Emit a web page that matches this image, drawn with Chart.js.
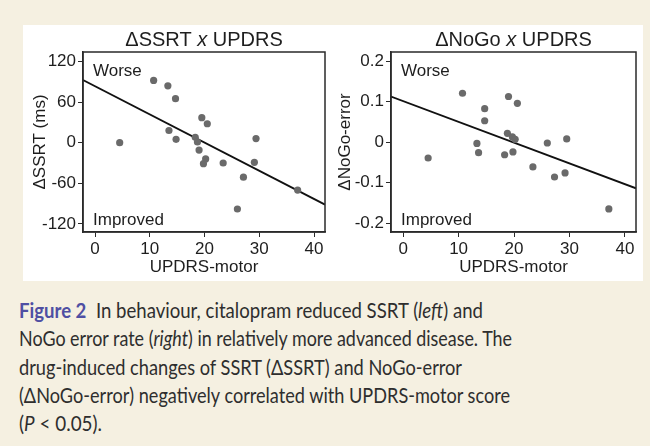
<!DOCTYPE html>
<html>
<head>
<meta charset="utf-8">
<script src="https://cdn.jsdelivr.net/npm/chart.js@4.4.0/dist/chart.umd.min.js"></script>
<style>
  body { margin: 0; background: #f5f0e1; width: 650px; height: 446px; overflow: hidden; position: relative; }
  #panel { position: absolute; left: 23px; top: 25px; width: 620px; height: 256px; background: #ffffff; }
  .wrap { position: absolute; top: 0; width: 310px; height: 256px; }
  #caption { position: absolute; left: 19px; top: 296px; font-family: Lato, "Open Sans", sans-serif; font-size: 20.5px; color: #2e2e2e; }
  #caption .line { white-space: nowrap; height: 28.3px; line-height: 28.3px; transform-origin: left center; display: block; width: max-content; }
  #caption b { color: #4f4fa3; font-weight: 700; }
</style>
</head>
<body>
<div id="panel">
  <div class="wrap" style="left:0"><canvas id="ssrtChart"></canvas></div>
  <div class="wrap" style="left:310px"><canvas id="nogoChart"></canvas></div>
</div>
<div id="caption">
  <span class="line" data-w="464"><b>Figure 2</b>&nbsp; In behaviour, citalopram reduced SSRT (<i>left</i>) and</span>
  <span class="line" data-w="493">NoGo error rate (<i>right</i>) in relatively more advanced disease. The</span>
  <span class="line" data-w="443">drug-induced changes of SSRT (&Delta;SSRT) and NoGo-error</span>
  <span class="line" data-w="491">(&Delta;NoGo-error) negatively correlated with UPDRS-motor score</span>
  <span class="line" data-w="83">(<i>P</i> &lt; 0.05).</span>
</div>
<script>
// UPDRS-motor scores (x) and drug-induced changes (y)
const updrsLeft = [4.5, 10.7, 13.3, 14.7, 13.5, 14.8, 19.5, 20.5, 18.3, 18.7, 19.0, 20.2, 19.8, 23.4, 29.1, 29.4, 27.1, 26.0, 37.0];
const deltaSSRT = [0, 92, 84, 65, 18, 5, 37, 28, 8, 1, -11, -24, -31, -30, -29, 6, -51, -98, -70];

const updrsRight = [4.5, 10.7, 14.7, 14.7, 13.3, 13.6, 19.0, 20.6, 18.8, 19.7, 20.2, 18.3, 19.8, 23.4, 26.0, 29.5, 27.3, 29.2, 37.1];
const deltaNoGo = [-0.039, 0.121, 0.083, 0.053, -0.003, -0.026, 0.113, 0.096, 0.022, 0.013, 0.007, -0.031, -0.024, -0.061, -0.002, 0.008, -0.086, -0.076, -0.165];

// regression lines, endpoints at the plot edges
const fitLeftX = [-2.2, 42];
const fitLeftY = [92.5, -91.5];
const fitRightX = [-2.2, 42];
const fitRightY = [0.113, -0.114];

const xTicks = [0, 10, 20, 30, 40];
const ssrtTicks = [-120, -60, 0, 60, 120];
const nogoTicks = [-0.2, -0.1, 0, 0.1, 0.2];
const nogoTickLabels = ['-0.2', '-0.1', '0', '0.1', '0.2'];

const FONT = "'Liberation Sans', Arial, sans-serif";
const INK = '#1e1e1e';

function toPoints(xs, ys) {
    return xs.map((x, i) => ({ x: x, y: ys[i] }));
}

// frame, panel title and the Worse / Improved notes
const decorPlugin = {
    id: 'decor',
    afterDraw(chart, args, opts) {
        const { ctx, chartArea: a } = chart;
        ctx.save();
        ctx.strokeStyle = '#2a2a2a';
        ctx.lineWidth = 1.5;
        ctx.strokeRect(a.left, a.top, a.right - a.left, a.bottom - a.top);

        ctx.fillStyle = INK;
        ctx.textBaseline = 'alphabetic';
        const parts = opts.title;
        let total = 0;
        parts.forEach(p => {
            ctx.font = (p.italic ? 'italic ' : '') + '20px ' + FONT;
            p.w = ctx.measureText(p.text).width;
            total += p.w;
        });
        let tx = (a.left + a.right) / 2 - total / 2;
        parts.forEach(p => {
            ctx.font = (p.italic ? 'italic ' : '') + '20px ' + FONT;
            ctx.fillText(p.text, tx, 21);
            tx += p.w;
        });

        ctx.font = '17px ' + FONT;
        ctx.fillText('Worse', a.left + 10, a.top + 24);
        ctx.fillText('Improved', a.left + 10, a.bottom - 7);
        ctx.restore();
    }
};

function makeChart(id, xs, ys, fx, fy, yMin, yMax, yTicks, yLabels, yTitle, yWidth, padRight, yTitlePad, title) {
    const ctx = document.getElementById(id).getContext('2d');
    return new Chart(ctx, {
        type: 'scatter',
        data: {
            datasets: [
                {
                    data: toPoints(xs, ys),
                    backgroundColor: '#6a6a6a',
                    borderWidth: 0,
                    pointRadius: 3.6
                },
                {
                    data: toPoints(fx, fy),
                    showLine: true,
                    borderColor: '#111111',
                    borderWidth: 1.8,
                    pointRadius: 0
                }
            ]
        },
        options: {
            responsive: true,
            maintainAspectRatio: false,
            animation: false,
            layout: { padding: { top: 27, right: padRight, left: 0, bottom: 0 } },
            plugins: {
                legend: { display: false },
                tooltip: { enabled: false },
                decor: { title: title }
            },
            scales: {
                x: {
                    type: 'linear',
                    min: -2.2,
                    max: 42,
                    afterBuildTicks: s => { s.ticks = xTicks.map(v => ({ value: v })); },
                    afterFit: s => { s.height = 49; },
                    grid: { drawOnChartArea: false, tickLength: 5, color: '#2a2a2a' },
                    border: { color: '#2a2a2a', width: 1.5 },
                    ticks: { color: INK, font: { family: FONT, size: 17 }, padding: 2, maxRotation: 0 },
                    title: { display: true, text: 'UPDRS-motor', color: INK, font: { family: FONT, size: 17 }, padding: { top: 0, bottom: 3 } }
                },
                y: {
                    min: yMin,
                    max: yMax,
                    afterBuildTicks: s => { s.ticks = yTicks.map(v => ({ value: v })); },
                    afterFit: s => { s.width = yWidth; },
                    grid: { drawOnChartArea: false, tickLength: 5, color: '#2a2a2a' },
                    border: { color: '#2a2a2a', width: 1.5 },
                    ticks: {
                        color: INK,
                        font: { family: FONT, size: 17 },
                        padding: 2,
                        callback: (v, i) => yLabels[i]
                    },
                    title: { display: true, text: yTitle, color: INK, font: { family: FONT, size: 17 }, padding: { top: yTitlePad, bottom: 0 } }
                }
            }
        },
        plugins: [decorPlugin]
    });
}

makeChart('ssrtChart', updrsLeft, deltaSSRT, fitLeftX, fitLeftY, -132, 134,
    ssrtTicks, ssrtTicks.map(String), '\u0394SSRT (ms)', 60, 8, 7,
    [{ text: '\u0394SSRT ' }, { text: 'x', italic: true }, { text: ' UPDRS' }]);

makeChart('nogoChart', updrsRight, deltaNoGo, fitRightX, fitRightY, -0.222, 0.223,
    nogoTicks, nogoTickLabels, '\u0394NoGo-error', 58, 7, 2,
    [{ text: '\u0394NoGo ' }, { text: 'x', italic: true }, { text: ' UPDRS' }]);

// squeeze caption lines to the widths in the figure
document.querySelectorAll('#caption .line').forEach(el => {
    const w = el.getBoundingClientRect().width;
    el.style.transform = 'scaleX(' + (el.dataset.w / w) + ')';
});
</script>
</body>
</html>
